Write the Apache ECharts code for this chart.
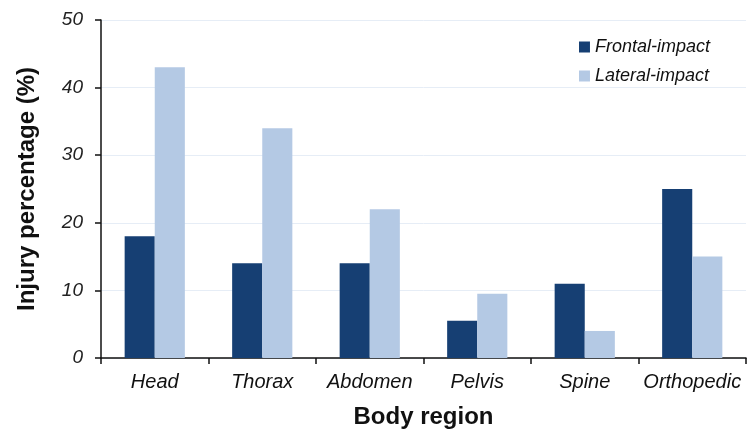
<!DOCTYPE html>
<html>
  <head>
    <meta charset="utf-8" />
    <title>Injury percentage by body region</title>
    <script src="https://cdn.jsdelivr.net/npm/echarts@6.0.0/dist/echarts.min.js"></script>
    <style>
      html, body { margin: 0; padding: 0; background: #fff; }
    </style>
  </head>
  <body>
    <div id="main" style="width: 747px; height: 434px"></div>

    <script type="text/javascript">
      // data
      const regions = ['Head', 'Thorax', 'Abdomen', 'Pelvis', 'Spine', 'Orthopedic']
      const frontal = [18, 14, 14, 5.5, 11, 25]
      const lateral = [43, 34, 22, 9.5, 4, 15]
      const seriesNames = ['Frontal-impact', 'Lateral-impact']

      const font = '"Liberation Sans", Arial, sans-serif'

      var myChart = echarts.init(document.getElementById('main'))

      var option = {
        animation: false,
        backgroundColor: '#fff',
        textStyle: { fontFamily: font },
        grid: { left: 101, right: 1, top: 20, bottom: 74, containLabel: false },
        legend: {
          data: seriesNames,
          orient: 'vertical',
          right: 32,
          top: 33,
          itemWidth: 11,
          itemHeight: 11,
          itemGap: 11,
          icon: 'rect',
          textStyle: { fontSize: 18, fontStyle: 'italic', color: '#111', fontFamily: font },
        },
        xAxis: {
          type: 'category',
          data: regions,
          name: 'Body region',
          nameLocation: 'middle',
          nameGap: 47,
          nameTextStyle: { fontSize: 24, fontWeight: 'bold', color: '#111', fontFamily: font },
          axisLine: { lineStyle: { color: '#111', width: 1.5 } },
          axisTick: { show: true, interval: 0, length: 6, lineStyle: { color: '#111', width: 1.5 } },
          axisLabel: { interval: 0, fontSize: 20, fontStyle: 'italic', color: '#111', margin: 14, fontFamily: font },
        },
        yAxis: {
          type: 'value',
          min: 0,
          max: 50,
          interval: 10,
          name: 'Injury percentage (%)',
          nameLocation: 'middle',
          nameGap: 62,
          nameTextStyle: { fontSize: 24, fontWeight: 'bold', color: '#111', fontFamily: font },
          axisLine: { show: true, lineStyle: { color: '#111', width: 1.5 } },
          axisTick: { show: true, inside: false, length: 6, lineStyle: { color: '#111', width: 1.5 } },
          axisLabel: { fontSize: 19, fontStyle: 'italic', color: '#222', margin: 18, fontFamily: font },
          splitLine: { show: true, lineStyle: { color: '#e6edf6', width: 1 } },
        },
        series: [
          {
            name: seriesNames[0],
            type: 'bar',
            data: frontal,
            barGap: '0%',
            barCategoryGap: '44%',
            itemStyle: { color: '#163f73' },
          },
          {
            name: seriesNames[1],
            type: 'bar',
            data: lateral,
            barGap: '0%',
            barCategoryGap: '44%',
            itemStyle: { color: '#b4c9e4' },
          },
        ],
      }

      myChart.setOption(option)
    </script>
  </body>
</html>
